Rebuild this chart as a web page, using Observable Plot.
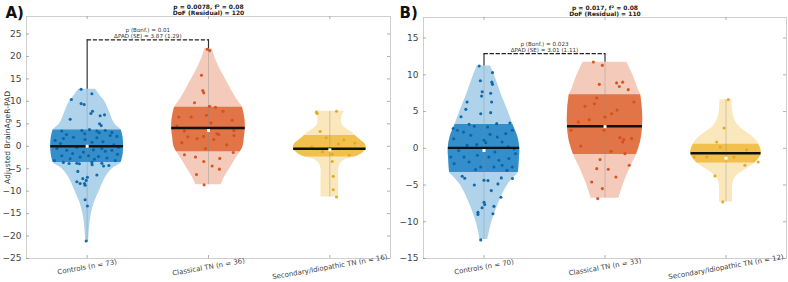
<!DOCTYPE html>
<html>
<head>
<meta charset="utf-8">
<script src="https://cdn.jsdelivr.net/npm/d3@7"></script>
<script src="https://cdn.jsdelivr.net/npm/@observablehq/plot@0.6"></script>
<style>
  body { margin: 0; background: #fff; }
  #wrap { position: relative; width: 788px; height: 282px; overflow: hidden; }
  #wrap svg { position: absolute; top: 0; }
</style>
</head>
<body>
<div id="wrap"></div>
<script>
// ---------- shared ----------
const pointColors = ["#0b63a8", "#d24f19", "#e3a91c"];
const lightColors = ["#b0d3ec", "#f4cbba", "#fae8bc"];
const bandColors = ["#338eca", "#e17547", "#f1c04d"];

// ---------- Panel A ----------
const groupsA = ["Controls (n = 73)", "Classical TN (n = 36)", "Secondary/Idiopathic TN (n = 16)"];
const yTicksA = [-25, -20, -15, -10, -5, 0, 5, 10, 15, 20, 25];

const ctrlA_v = [12.7, 11.7, 10.4, 9.5, 9.3, 7.8, 7.3, 7.0, 6.8, 6.0, 5.0, 4.6,
  3.4, 3.5, 3.7, 3.4, 3.5, 3.1, 1.3, 1.7, 2.0, 1.5, 1.9, 2.4, 2.2, -0.5, -0.9, -0.2, -1.3, -0.8, -0.5, -0.9, -0.2,
  -2.1, -2.8, -2.4, -2.1, -2.3, -2.6, -3.2, -3.2, -3.6, -3.8, -3.8, -3.6,
  0.6, 1.0, 2.8, 0.3, -1.6, -1.1, 2.6, 0.9, -2.9, -1.8, 3.0,
  -3.85, -3.9, -4.1, -4.4, -4.3, -5.6, -6.4, -7.9, -8.3, -8.3, -6.9, -7.6, -8.7, -7.2, -11.9, -13.3, -21.1];
const ctrlA_j = [-0.05, 0.039, -0.13, -0.05, -0.025, 0.044, 0.031, 0.143, 0.107, -0.14, 0.102, 0.116,
  -0.209, -0.044, 0.019, 0.08, 0.149, 0.204, -0.264, -0.196, -0.113, -0.017, 0.08, 0.19, 0.245, -0.25, -0.168, -0.085, -0.03, 0.052, 0.121, 0.204, 0.259,
  -0.209, -0.14, -0.058, 0.011, 0.093, 0.163, 0.231, -0.27, 0.039, 0.121, -0.085, -0.196,
  -0.22, 0.13, -0.02, 0.22, -0.12, 0.15, -0.17, 0.04, 0.06, 0.25, 0.10,
  -0.149, -0.064, 0.041, 0.135, 0.179, -0.077, 0.08, -0.085, -0.058, -0.022, 0.002, -0.008, -0.017, -0.036, -0.017, 0.002, -0.008];

const clsA_v = [21.6, 21.3, 15.8, 12.4, 11.9, 9.7, 8.9, 8.7, 6.5, 6.5, 6.9, 5.8, 5.2, 3.4, 3.5, 2.8, 2.2, 2.4,
  2.1, 1.7, 1.5, 2.6, 0.8, -0.5, -1.9, -2.4, -3.4, -2.7, -4.4, -5.1, -6.3, -8.6, -1.4, 4.5, 0.3, 7.8];
const clsA_j = [-0.01, 0.01, -0.058, -0.047, -0.039, -0.115, 0.008, 0.058, -0.245, -0.143, -0.017, 0.195, 0.02, -0.198, 0.209, 0.07, -0.04, 0.21,
  -0.17, -0.094, 0.044, 0.085, -0.22, -0.025, -0.198, -0.107, -0.039, 0.093, 0.03, 0.09, -0.099, -0.036, 0.204, -0.26, 0.15, 0.12];

const secA_v = [7.6, 7.3, 7.8, 3.3, 1.4, 0.7, -1.8, -3.4, -6.7, -9.7, -11.3, -0.2, 0.5, -1.2, 1.9, -2.0];
const secA_j = [-0.11, -0.105, 0.055, -0.08, 0.116, 0.205, 0.02, 0.02, 0.028, 0.028, 0.055, -0.15, 0.07, -0.06, -0.03, 0.16];

// violin outlines: [value, half-width in group units]
const ctrlA_prof = [[-21.2, 0.012], [-18, 0.02], [-15, 0.035], [-12.5, 0.06], [-10, 0.10], [-7, 0.15], [-5, 0.207],
  [-3.6, 0.28], [-2, 0.295], [0, 0.30], [2, 0.295], [3.6, 0.28], [5, 0.227], [7.5, 0.186], [10, 0.145], [11, 0.115], [12.7, 0.07]];
const clsA_prof = [[-8.6, 0.105], [-7, 0.13], [-5, 0.175], [-3, 0.22], [-1.3, 0.262], [0, 0.285], [2, 0.295], [4, 0.303],
  [6, 0.3], [8.6, 0.28], [10, 0.245], [12.5, 0.19], [15, 0.14], [17.5, 0.09], [20, 0.05], [21.7, 0.03]];
const secA_prof = [[-11.3, 0.073], [-8, 0.073], [-5, 0.073], [-4, 0.085], [-3, 0.125], [-2.4, 0.2], [-2, 0.24], [-1.2, 0.28],
  [-0.5, 0.3], [0.5, 0.29], [1, 0.27], [2, 0.225], [3, 0.185], [4, 0.13], [5, 0.10], [6.5, 0.10], [7.8, 0.12]];

const meanA = [0.0, 4.07, -0.55];
const medianA = [0.0, 3.5, -0.8];
const q1A = [-3.6, -1.2, -2.4];
const q3A = [3.6, 8.7, 2.4];

// ---------- Panel B ----------
const groupsB = ["Controls (n = 70)", "Classical TN (n = 33)", "Secondary/Idiopathic TN (n = 12)"];
const yTicksB = [-15, -10, -5, 0, 5, 10, 15];

const ctrlB_v = [11.2, 10.3, 9.2, 9.0, 8.7, 7.7, 7.5, 6.3, 7.1, 6.3, 5.3, 4.7, 4.85, 4.3, 3.45, 2.7, 3.26, 3.35,
  2.45, 1.77, 1.09, 1.54, 2.45, 0.77, 0.86, -1.18, -1.18, -0.95, -1.18, -1.63, -1.4, -0.72, -2.09, -1.86, -2.54, -2.54, -2.31, -2.54,
  3.0, 2.9, 2.2, 2.0, 1.3, 0.4, 0.2, -0.3, -0.5, 0.5, -2.9, -3.0, 1.9, -0.1,
  -4.08, -4.35, -4.4, -4.03, -4.12, -5.76, -4.85, -6.66, -7.34, -7.66, -8.1, -8.7, -9.0, -8.9, -7.9, -12.47, -3.8, -5.0];
const ctrlB_j = [-0.04, 0.07, -0.03, 0.065, 0.07, -0.015, 0.055, -0.14, -0.02, 0.063, -0.15, -0.027, 0.055, -0.19, 0.214, -0.255, -0.123, 0.105,
  -0.22, -0.11, 0, 0.11, 0.234, 0.014, 0.15, -0.274, -0.165, -0.055, 0.04, 0.123, 0.206, 0.26, -0.247, -0.123, -0.027, 0.082, 0.15, 0.234,
  -0.08, 0.03, -0.17, 0.18, -0.25, -0.14, 0.2, -0.21, 0.09, -0.06, -0.07, 0.19, 0.05, 0.25,
  -0.159, 0, 0.033, 0.143, 0.235, 0.06, 0.115, 0.14, 0, 0.006, -0.016, -0.05, -0.05, 0.074, 0.082, -0.027, -0.18, -0.08];

const clsB_v = [11.74, 11.29, 8.7, 8.9, 8.4, 9.0, 7.98, 6.85, 6.07, 5.71, 6.3, 4.26, 4.7, 3.58, 2.45, 2.45, 1.45, 1.18, 0.86, 1.32,
  -0.73, -1.54, -2.31, -2.77, -2.86, -3.9, -4.58, -5.49, -6.85, 0.3, -0.4, 5.2, 3.9];
const clsB_j = [-0.096, -0.022, -0.047, 0.096, 0.118, 0.146, 0.192, -0.068, -0.088, -0.165, 0.239, 0, 0.055, -0.22, -0.28, -0.008, 0.123, 0.156, 0.146, 0.22,
  0.165, -0.041, 0.2, -0.068, 0.027, 0.09, -0.11, -0.022, -0.06, -0.2, 0.05, 0.1, -0.13];

const secB_v = [6.62, 2.77, 0.86, 0.18, -1.18, -1.18, -1.18, -1.86, -2.31, -3.76, -7.3, -0.2];
const secB_j = [0.019, -0.016, -0.077, -0.049, -0.263, -0.159, 0.066, 0.266, 0.156, -0.091, -0.027, 0.17];

const ctrlB_prof = [[-12.4, 0.032], [-10, 0.065], [-7.5, 0.12], [-5, 0.195], [-4, 0.245], [-3.3, 0.283], [-2, 0.29], [0, 0.295],
  [1.5, 0.28], [3.2, 0.24], [5, 0.2], [7.5, 0.14], [10, 0.085], [11.2, 0.055]];
const clsB_prof = [[-6.8, 0.115], [-5, 0.15], [-3, 0.2], [-0.86, 0.26], [1, 0.295], [3, 0.31], [5, 0.31], [7.3, 0.295],
  [8, 0.275], [10, 0.23], [11.7, 0.18]];
const secB_prof = [[-7.3, 0.055], [-5, 0.055], [-4, 0.075], [-3, 0.15], [-2, 0.24], [-0.8, 0.29], [0, 0.285], [1, 0.255],
  [2, 0.185], [3, 0.107], [4, 0.07], [5, 0.055], [6.6, 0.05]];

const meanB = [0.05, 3.0, -0.68];
const medianB = [-0.3, 2.95, -1.35];
const q1B = [-3.3, -0.86, -2.0];
const q3B = [3.25, 7.3, 0.55];

// ---------- helpers ----------
function widthAt(prof, v) {
  const i = d3.bisector(d => d[0]).left(prof, v);
  if (i <= 0) return prof[0][1];
  if (i >= prof.length) return prof[prof.length - 1][1];
  const a = prof[i - 1], b = prof[i];
  const t = (v - a[0]) / (b[0] - a[0]);
  return a[1] + t * (b[1] - a[1]);
}
function bandProfile(prof, lo, hi) {
  return [[lo, widthAt(prof, lo)], ...prof.filter(d => d[0] > lo && d[0] < hi), [hi, widthAt(prof, hi)]];
}

function violinMarks(i, prof, vals, jit, mean, median, q1, q3) {
  const c = i + 1;
  const pts = vals.map((v, k) => ({v, j: jit[k]}));
  const wm = widthAt(prof, mean);
  return [
    Plot.areaX(prof, {y: d => d[0], x1: d => c - d[1], x2: d => c + d[1], fill: lightColors[i], curve: "catmull-rom"}),
    Plot.areaX(bandProfile(prof, q1, q3), {y: d => d[0], x1: d => c - d[1], x2: d => c + d[1], fill: bandColors[i], curve: "catmull-rom"}),
    Plot.ruleX([c], {y1: prof[0][0], y2: prof[prof.length - 1][0], stroke: "#8a8a8a", strokeOpacity: 0.55, strokeWidth: 0.7}),
    Plot.dot(pts, {x: d => c + d.j, y: d => d.v, r: 1.55, fill: pointColors[i], fillOpacity: 0.95}),
    Plot.ruleY([mean], {y: d => d, x1: c - wm, x2: c + wm, stroke: "#111", strokeWidth: 2.4}),
    Plot.dot([median], {x: c, y: d => d, symbol: "square", r: 1.7, fill: "white"})
  ];
}

function panel(cfg) {
  const fw = cfg.width - cfg.marginLeft - cfg.marginRight;
  const fh = cfg.height - cfg.marginTop - cfg.marginBottom;
  const br = cfg.bracket;
  const marks = [
    ...cfg.groups.flatMap((g, i) => violinMarks(i, cfg.profs[i], cfg.vals[i], cfg.jits[i], cfg.mean[i], cfg.median[i], cfg.q1[i], cfg.q3[i])),
    Plot.frame({stroke: "#c4c4c4", strokeWidth: 0.8}),
    Plot.tickY(cfg.yTicks, {y: d => d, insetRight: fw - 3, stroke: "#9a9a9a", strokeWidth: 0.8}),
    Plot.tickY(cfg.yTicks, {y: d => d, insetLeft: fw - 3, stroke: "#9a9a9a", strokeWidth: 0.8}),
    Plot.tickX([1, 2, 3], {x: d => d, insetBottom: fh - 3, stroke: "#9a9a9a", strokeWidth: 0.8}),
    Plot.tickX([1, 2, 3], {x: d => d, insetTop: fh - 3, stroke: "#9a9a9a", strokeWidth: 0.8}),
    Plot.axisY(cfg.yTicks, {tickSize: 0, tickPadding: 5, fontSize: 9, fill: "#444", label: null}),
    Plot.text(cfg.groups, {x: (d, i) => i + 1, frameAnchor: "bottom", dy: 8.5, rotate: -10, lineAnchor: "middle", fontSize: 7, fill: "#444"}),
    // significance bracket
    Plot.ruleX([br.from], {x: d => d, y1: br.leftBase, y2: br.top, stroke: "#333", strokeWidth: 1.2}),
    Plot.ruleX([br.to], {x: d => d, y1: br.rightBase, y2: br.top, stroke: "#333", strokeWidth: 1.2}),
    Plot.line([[br.from, br.top], [br.to, br.top]], {x: d => d[0], y: d => d[1], stroke: "#222", strokeWidth: 1.1, strokeDasharray: "3.5,2.5"}),
    Plot.text([br.pText], {x: (br.from + br.to) / 2, y: br.top, dy: -9.6, lineAnchor: "middle", fontSize: 5.6, fill: "#333"}),
    Plot.text([br.dText], {x: (br.from + br.to) / 2, y: br.top, dy: -3.8, lineAnchor: "middle", fontSize: 5.6, fill: "#333"}),
    // titles
    Plot.text([cfg.title[0]], {frameAnchor: "top", dy: -9.5, lineAnchor: "middle", fontSize: 6, fontWeight: "bold", fill: "#222"}),
    Plot.text([cfg.title[1]], {frameAnchor: "top", dy: -3, lineAnchor: "middle", fontSize: 6, fontWeight: "bold", fill: "#222"}),
    Plot.text([cfg.tag], {frameAnchor: "top-left", dx: cfg.tagDx, dy: cfg.tagDy, textAnchor: "start", lineAnchor: "middle", fontSize: 15, fontWeight: "bold", fill: "#111"})
  ];
  if (cfg.yLabel) {
    marks.push(Plot.text([cfg.yLabel], {frameAnchor: "left", dx: -19, rotate: -90, textAnchor: "middle", lineAnchor: "middle", fontSize: 7.6, fill: "#333"}));
  }
  const svg = Plot.plot({
    width: cfg.width, height: cfg.height,
    marginLeft: cfg.marginLeft, marginRight: cfg.marginRight, marginTop: cfg.marginTop, marginBottom: cfg.marginBottom,
    x: {domain: [0.5, 3.5], axis: null},
    y: {domain: cfg.yDomain, axis: null},
    style: {fontFamily: "DejaVu Sans, sans-serif", background: "transparent", overflow: "visible"},
    marks
  });
  svg.style.left = cfg.left + "px";
  return svg;
}

const wrap = document.getElementById("wrap");
wrap.appendChild(panel({
  left: 0, width: 394, height: 282, marginLeft: 26, marginRight: 4, marginTop: 16, marginBottom: 24,
  yDomain: [-25, 28.9], yTicks: yTicksA, groups: groupsA,
  profs: [ctrlA_prof, clsA_prof, secA_prof], vals: [ctrlA_v, clsA_v, secA_v], jits: [ctrlA_j, clsA_j, secA_j],
  mean: meanA, median: medianA, q1: q1A, q3: q3A,
  bracket: {from: 1, to: 2, top: 23.7, leftBase: 12.7, rightBase: 21.7, pText: "p (Bonf.) = 0.01", dText: "ΔPAD (SE) = 3.87 (1.29)"},
  title: ["p = 0.0078, f² = 0.08", "DoF (Residual) = 120"],
  tag: "A)", tagDx: -21, tagDy: -3.5, yLabel: "Adjusted BrainAgeR-PAD"
}));
wrap.appendChild(panel({
  left: 394, width: 394, height: 282, marginLeft: 29, marginRight: 2, marginTop: 17, marginBottom: 24,
  yDomain: [-15, 17.8], yTicks: yTicksB, groups: groupsB,
  profs: [ctrlB_prof, clsB_prof, secB_prof], vals: [ctrlB_v, clsB_v, secB_v], jits: [ctrlB_j, clsB_j, secB_j],
  mean: meanB, median: medianB, q1: q1B, q3: q3B,
  bracket: {from: 1, to: 2, top: 12.88, leftBase: 11.2, rightBase: 11.7, pText: "p (Bonf.) = 0.023", dText: "ΔPAD (SE) = 3.01 (1.11)"},
  title: ["p = 0.017, f² = 0.08", "DoF (Residual) = 110"],
  tag: "B)", tagDx: -24, tagDy: -4.5, yLabel: null
}));
</script>
</body>
</html>
